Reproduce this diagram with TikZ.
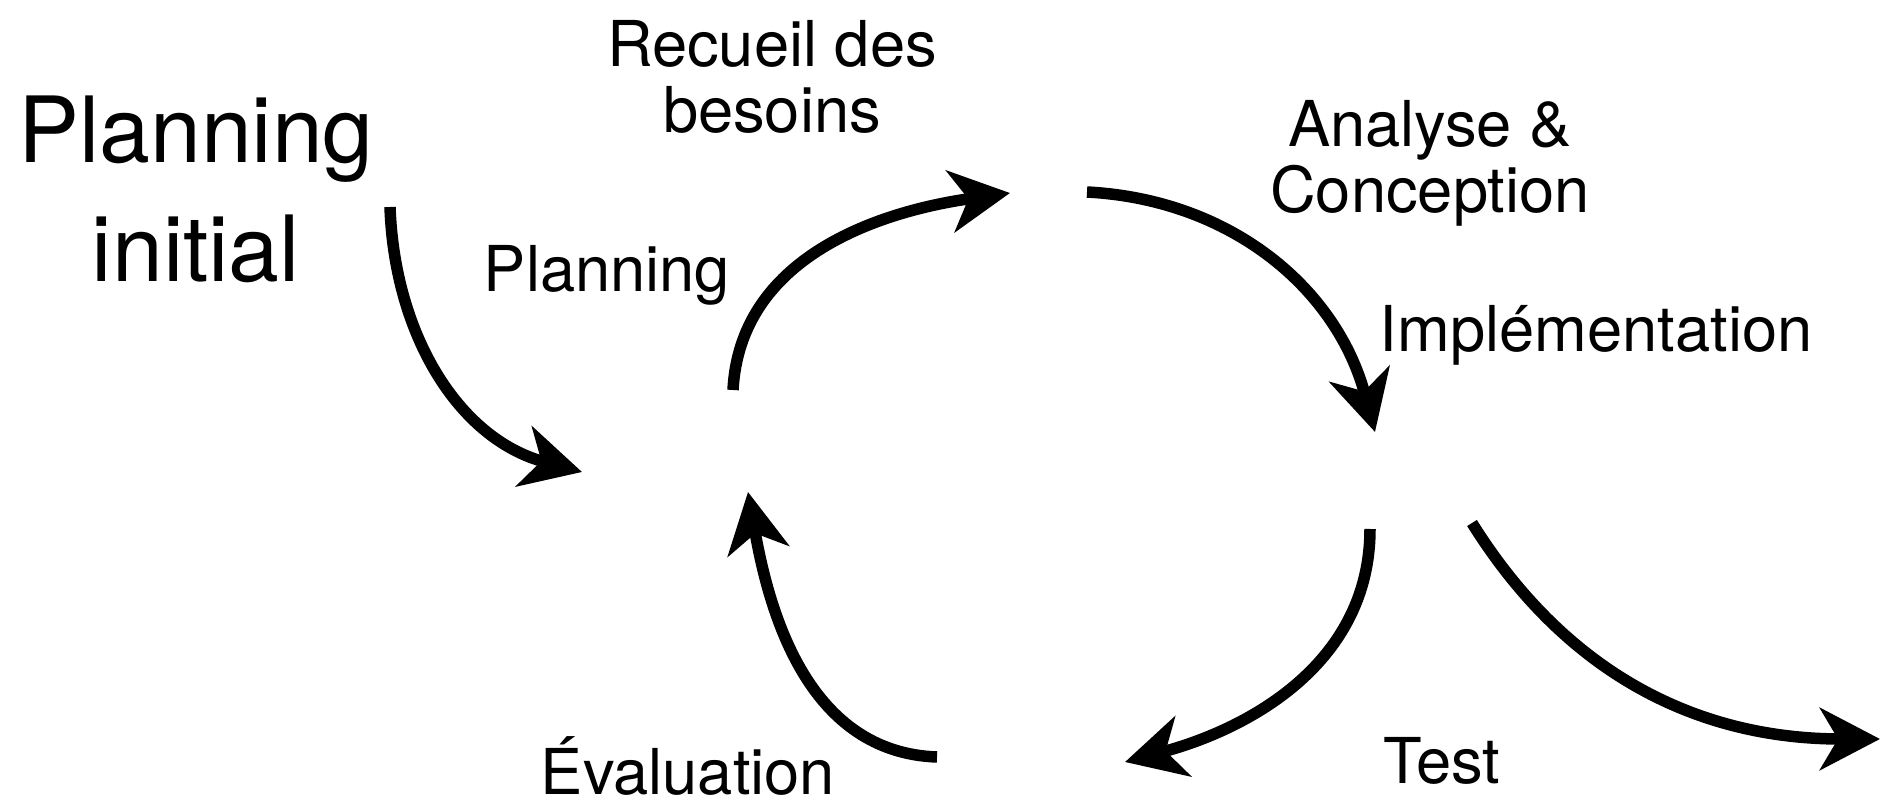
\documentclass[tikz,border=0pt]{standalone}
\usepackage{fontspec}
\setmainfont{TeX Gyre Heros}
\usetikzlibrary{arrows.meta}

\begin{document}
\begin{tikzpicture}[
    flow/.style={-{Stealth[length=6mm, width=6.2mm, inset=1.8mm]}, line width=1.15mm},
    lbl/.style={anchor=base, align=center, inner sep=0pt, font=\fontsize{18}{19}\selectfont},
    big/.style={anchor=base, align=center, inner sep=0pt, font=\fontsize{26}{34}\selectfont}]
    \useasboundingbox (0,0) rectangle (18.84,8.05);

    \node[big] (init) at (1.96,5.23) {Planning\\initial};
    \node[lbl] (recueil) at (7.72,6.72) {Recueil des\\besoins};
    \node[lbl] (plan) at (6.07,5.13) {Planning};
    \node[lbl] (analyse) at (14.30,5.92) {Analyse \&\\Conception};
    \node[lbl] (impl) at (15.96,4.53) {Implémentation};
    \node[lbl] (test) at (14.42,0.22) {Test};
    \node[lbl] (eval) at (6.88,0.10) {Évaluation};

    \coordinate (a1) at (3.90,5.98);
    \coordinate (b1) at (5.82,3.33);
    \coordinate (a2) at (7.33,4.15);
    \coordinate (b2) at (10.10,6.12);
    \coordinate (a3) at (10.87,6.13);
    \coordinate (b3) at (13.75,3.73);
    \coordinate (a4) at (13.70,2.76);
    \coordinate (b4) at (11.25,0.43);
    \coordinate (a5) at (9.37,0.48);
    \coordinate (b5) at (7.48,3.13);
    \coordinate (a6) at (14.72,2.82);
    \coordinate (b6) at (18.80,0.66);

    \draw[flow] (a1) to[out=-88, in=165] (b1);
    \draw[flow] (a2) to[out=87, in=188] (b2);
    \draw[flow] (a3) to[out=-3, in=105] (b3);
    \draw[flow] (a4) to[out=-90, in=15] (b4);
    \draw[flow] (a5) to[out=178, in=-80] (b5);
    \draw[flow] (a6) to[out=-58, in=180] (b6);
\end{tikzpicture}
\end{document}
